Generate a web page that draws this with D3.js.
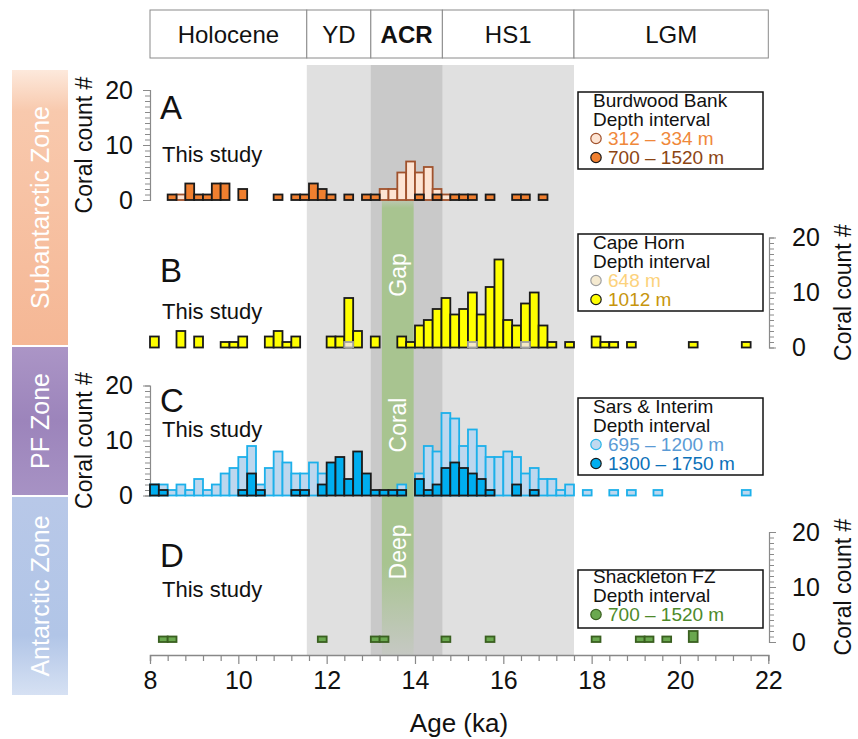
<!DOCTYPE html>
<html><head><meta charset="utf-8">
<script src="https://cdn.jsdelivr.net/npm/d3@7/dist/d3.min.js"></script>
<style>body{margin:0;background:#fff} svg{display:block;font-family:"Liberation Sans",Arial,Helvetica,sans-serif}</style>
</head><body><svg id="c" width="858" height="739"></svg>
<script>
// ---------- data ----------
const periodNames  = ["Holocene", "YD", "ACR", "HS1", "LGM"];
const periodBounds = [8, 11.55, 13.0, 14.62, 17.6, 22];
const gapBand  = [13.25, 13.97];
const gapWords = ["Gap", "Coral", "Deep"];
const zoneNames = ["Subantarctic Zone", "PF Zone", "Antarctic Zone"];
const xTickLabels = [8, 10, 12, 14, 16, 18, 20, 22];
const yTickLabels = [0, 10, 20];
const binWidth = 0.2;

// A  Burdwood Bank
const burdShallowAge   = [8.6, 13.2, 13.4, 13.6, 13.8, 14.0, 14.2, 14.4, 14.6];
const burdShallowCount = [1, 2, 2, 5, 7, 5, 6, 2, 1];
const burdDeepAge   = [8.4, 8.8, 9.0, 9.2, 9.4, 9.6, 10.0, 10.8, 11.2, 11.4, 11.6, 11.8, 12.0, 12.4, 12.8, 13.0, 14.0, 14.4, 14.8, 15.0, 15.2, 15.6, 16.2, 16.4, 16.8];
const burdDeepCount = [1, 3, 1, 1, 3, 3, 2, 1, 1, 1, 3, 2, 1, 1, 1, 1, 1, 1, 1, 1, 1, 1, 1, 1, 1];
// B  Cape Horn
const hornDeepAge   = [8.0, 8.6, 9.0, 9.6, 9.8, 10.0, 10.6, 10.8, 11.0, 11.2, 12.0, 12.2, 12.4, 12.6, 13.0, 13.6, 13.8, 14.0, 14.2, 14.4, 14.6, 14.8, 15.0, 15.2, 15.4, 15.6, 15.8, 16.0, 16.2, 16.4, 16.6, 16.8, 17.0, 17.4, 18.0, 18.2, 18.4, 18.8, 20.2, 21.4];
const hornDeepCount = [2, 3, 2, 1, 1, 2, 2, 3, 1, 2, 2, 2, 9, 3, 2, 2, 1, 4, 5, 7, 9, 6, 7, 10, 6, 11, 16, 5, 4, 8, 10, 4, 1, 1, 2, 1, 1, 1, 1, 1];
const hornShallowAge   = [12.4, 15.2, 16.4];
const hornShallowCount = [1, 1, 1];
// C  Sars & Interim
const sarsShallowAge   = [8.0, 8.2, 8.4, 8.6, 8.8, 9.0, 9.2, 9.4, 9.6, 9.8, 10.0, 10.2, 10.4, 10.6, 10.8, 11.0, 11.2, 11.4, 11.6, 11.8, 13.6, 14.0, 14.2, 14.4, 14.6, 14.8, 15.0, 15.2, 15.4, 15.6, 15.8, 16.0, 16.2, 16.4, 16.6, 16.8, 17.0, 17.2, 17.4, 17.8, 18.4, 18.8, 19.4, 21.4];
const sarsShallowCount = [2, 2, 1, 2, 1, 3, 1, 2, 4, 5, 7, 9, 2, 5, 8, 6, 4, 4, 6, 4, 2, 4, 9, 8, 15, 14, 9, 12, 9, 7, 7, 8, 7, 4, 5, 3, 3, 1, 2, 1, 1, 1, 1, 1];
const sarsDeepAge   = [8.0, 8.2, 10.0, 10.2, 10.4, 11.2, 11.4, 11.8, 12.0, 12.2, 12.4, 12.6, 12.8, 13.0, 13.2, 13.4, 13.6, 14.0, 14.2, 14.4, 14.6, 14.8, 15.0, 15.2, 15.4, 15.6, 16.2, 16.6];
const sarsDeepCount = [2, 1, 1, 4, 1, 1, 1, 2, 6, 7, 3, 8, 4, 1, 1, 1, 1, 3, 1, 2, 5, 6, 5, 4, 3, 1, 2, 1];
// D  Shackleton FZ
const shackAge   = [8.2, 8.4, 11.8, 13.0, 13.2, 14.6, 15.6, 18.0, 19.0, 19.2, 19.6, 20.2];
const shackCount = [1, 1, 1, 1, 1, 1, 1, 1, 1, 1, 1, 2];

// ---------- layout ----------
const svg = d3.select("#c");
const x = d3.scaleLinear().domain([8, 22]).range([150, 768.3]);
const axisY = 655, bandTop = 65;
const panelBase = [200, 347.5, 495.5, 642];
const panelH = 110;

const defs = svg.append("defs");
function vgrad(id, stops) {
  const g = defs.append("linearGradient").attr("id", id).attr("x1", 0).attr("y1", 0).attr("x2", 0).attr("y2", 1);
  stops.forEach(s => g.append("stop").attr("offset", s[0]).attr("stop-color", s[1]).attr("stop-opacity", s[2] === undefined ? 1 : s[2]));
}
vgrad("gSub", [[0, "#fde9dc"], [0.15, "#f8c9ad"], [1, "#f5b795"]]);
vgrad("gPF",  [[0, "#ab95c6"], [0.5, "#9c84bb"], [1, "#a792c4"]]);
vgrad("gAnt", [[0, "#b8c8e8"], [0.7, "#b1c5e7"], [1, "#d6e1f3"]]);
vgrad("gGreen", [[0, "#a8c490", 0.3], [0.02, "#a8c490", 1], [0.8, "#a8c490", 1], [1, "#a8c490", 0.1]]);

// zone bands
const zoneRanges = [[70, 345], [347, 495], [497, 695]];
const zoneFills = ["url(#gSub)", "url(#gPF)", "url(#gAnt)"];
zoneNames.forEach((n, i) => {
  const [y0, y1] = zoneRanges[i];
  svg.append("rect").attr("x", 12).attr("y", y0).attr("width", 56).attr("height", y1 - y0).attr("fill", zoneFills[i]);
  svg.append("text").attr("transform", `translate(40,${(y0 + y1) / 2}) rotate(-90)`)
    .attr("text-anchor", "middle").attr("dy", "0.35em").attr("fill", "#fff").attr("font-size", 25).text(n);
});

// grey period bands
svg.append("rect").attr("x", x(periodBounds[1])).attr("width", x(periodBounds[4]) - x(periodBounds[1]))
  .attr("y", bandTop).attr("height", axisY - bandTop).attr("fill", "#e0e0e0");
svg.append("rect").attr("x", x(periodBounds[2])).attr("width", x(periodBounds[3]) - x(periodBounds[2]))
  .attr("y", bandTop).attr("height", axisY - bandTop).attr("fill", "#c9c9c9");

// green gap band
const gTop = 199;
svg.append("rect").attr("x", x(gapBand[0])).attr("width", x(gapBand[1]) - x(gapBand[0]))
  .attr("y", gTop).attr("height", axisY - gTop).attr("fill", "url(#gGreen)");
const gapCy = [275, 425, 552];
gapWords.forEach((w, i) => {
  svg.append("text").attr("transform", `translate(${(x(gapBand[0]) + x(gapBand[1])) / 2},${gapCy[i]}) rotate(-90)`)
    .attr("text-anchor", "middle").attr("dy", "0.36em").attr("fill", "#fff").attr("font-size", 23).text(w);
});

// header
const hTop = 10, hBot = 58;
periodNames.forEach((n, i) => {
  const xa = x(periodBounds[i]), xb = x(periodBounds[i + 1]);
  svg.append("rect").attr("x", xa).attr("y", hTop).attr("width", xb - xa).attr("height", hBot - hTop)
    .attr("fill", "#fff").attr("stroke", "#8a8a8a").attr("stroke-width", 1);
  svg.append("text").attr("x", (xa + xb) / 2).attr("y", (hTop + hBot) / 2).attr("dy", "0.36em")
    .attr("text-anchor", "middle").attr("font-size", 24).attr("font-weight", n === "ACR" ? "bold" : "normal")
    .attr("fill", "#111").text(n);
});

// x axis
const xTickVals = d3.range(36).map(i => +(8 + i * 0.4).toFixed(1));
const xAxis = d3.axisBottom(x).tickValues(xTickVals).tickSizeOuter(0).tickSize(6).tickPadding(10)
  .tickFormat(v => xTickLabels.includes(v) ? v : "");
const gx = svg.append("g").attr("transform", `translate(0,${axisY})`).call(xAxis);
gx.select(".domain").attr("stroke", "#888").attr("stroke-width", 1.5);
gx.selectAll(".tick line").attr("stroke", "#888").attr("stroke-width", 1.2)
  .attr("y2", v => xTickLabels.includes(v) ? 9 : 6);
gx.selectAll(".tick text").attr("font-size", 25).attr("fill", "#111").attr("font-family", "Liberation Sans, Arial, sans-serif");
svg.append("text").attr("x", 459).attr("y", 732).attr("text-anchor", "middle").attr("font-size", 26).attr("fill", "#111").text("Age (ka)");

// panels
const panels = [
  { letter: "A", side: "left", series: [
      { age: burdShallowAge, count: burdShallowCount, fill: "#fde4d3", stroke: "#a0522d" },
      { age: burdDeepAge, count: burdDeepCount, fill: "#f07f2f", stroke: "#1a1a1a" }],
    letterY: 119, studyY: 162,
    legend: { top: 92, h: 77, first: 15, title: "Burdwood Bank", items: [
      { label: "312 – 334 m", fill: "#fde4d3", stroke: "#a0522d", color: "#f0883a" },
      { label: "700 – 1520 m", fill: "#f07f2f", stroke: "#1a1a1a", color: "#8c4513" }] } },
  { letter: "B", side: "right", series: [
      { age: hornDeepAge, count: hornDeepCount, fill: "#ffff00", stroke: "#1a1a1a" },
      { age: hornShallowAge, count: hornShallowCount, fill: "#f4e9c6", stroke: "#a0a0a0" }],
    letterY: 282, studyY: 319,
    legend: { top: 234, h: 77, first: 15, title: "Cape Horn", items: [
      { label: "648 m", fill: "#f5ead0", stroke: "#a0a0a0", color: "#fcd27c" },
      { label: "1012 m", fill: "#ffff00", stroke: "#1a1a1a", color: "#c7950c" }] } },
  { letter: "C", side: "left", series: [
      { age: sarsShallowAge, count: sarsShallowCount, fill: "#bdd7ee", stroke: "#1cb0ea" },
      { age: sarsDeepAge, count: sarsDeepCount, fill: "#00aeef", stroke: "#1a1a1a" }],
    letterY: 412, studyY: 437,
    legend: { top: 398, h: 77, first: 15, title: "Sars & Interim", items: [
      { label: "695 – 1200 m", fill: "#c0d9ef", stroke: "#29b5e8", color: "#5b9bd5" },
      { label: "1300 – 1750 m", fill: "#00aeef", stroke: "#1a1a1a", color: "#0b71b9" }] } },
  { letter: "D", side: "right", series: [
      { age: shackAge, count: shackCount, fill: "#6aa84f", stroke: "#3a6020" }],
    letterY: 567, studyY: 597,
    legend: { top: 570, h: 58, first: 13, title: "Shackleton FZ", items: [
      { label: "700 – 1520 m", fill: "#6aa84f", stroke: "#3a6020", color: "#4e8a2a" }] } }
];

panels.forEach((p, pi) => {
  const base = panelBase[pi];
  const y = d3.scaleLinear().domain([0, 20]).range([base, base - panelH]);
  const g = svg.append("g");
  const isLeft = p.side === "left";
  const ax = (isLeft ? d3.axisLeft(y) : d3.axisRight(y)).tickValues(d3.range(21)).tickSizeOuter(0)
    .tickSize(5).tickPadding(isLeft ? 12 : 18).tickFormat(v => yTickLabels.includes(v) ? v : "");
  const axX = isLeft ? 150 : 769;
  const ga = g.append("g").attr("transform", `translate(${axX},0)`).call(ax);
  ga.select(".domain").attr("stroke", "#8a8a8a").attr("stroke-width", 1.2);
  ga.selectAll(".tick line").attr("stroke", "#8a8a8a").attr("stroke-width", 1)
    .attr("x2", v => (isLeft ? -1 : 1) * (yTickLabels.includes(v) ? 7 : 5));
  ga.selectAll(".tick text").attr("font-size", 25).attr("fill", "#111").attr("font-family", "Liberation Sans, Arial, sans-serif");
  if (!isLeft) ga.selectAll(".tick text").attr("text-anchor", "start");
  g.append("text").attr("transform", `translate(${isLeft ? 84 : 843},${base - panelH / 2}) rotate(-90)`)
    .attr("text-anchor", "middle").attr("dy", "0.35em").attr("font-size", 23).attr("fill", "#111").text("Coral count #");

  p.series.forEach(s => {
    g.append("g").selectAll("rect").data(s.age.map((a, i) => ({ a, c: s.count[i] }))).join("rect")
      .attr("x", d => x(d.a)).attr("width", d => x(d.a + binWidth) - x(d.a))
      .attr("y", d => y(d.c)).attr("height", d => base - y(d.c))
      .attr("fill", s.fill).attr("stroke", s.stroke).attr("stroke-width", 1.8);
  });

  svg.append("text").attr("x", 160).attr("y", p.letterY).attr("font-size", 33).attr("fill", "#111").text(p.letter);
  svg.append("text").attr("x", 162).attr("y", p.studyY).attr("font-size", 22).attr("fill", "#111").text("This study");

  const L = p.legend, lx = 578, lw = 185;
  svg.append("rect").attr("x", lx).attr("y", L.top).attr("width", lw).attr("height", L.h)
    .attr("fill", "#fff").attr("stroke", "#111").attr("stroke-width", 1.5);
  [L.title, "Depth interval"].forEach((t, i) => svg.append("text").attr("x", lx + 15).attr("y", L.top + L.first + 19 * i)
    .attr("font-size", 19).attr("fill", "#111").text(t));
  L.items.forEach((it, i) => {
    const by = L.top + L.first + 19 * (i + 2);
    svg.append("circle").attr("cx", lx + 18).attr("cy", by - 6.5).attr("r", 5.2)
      .attr("fill", it.fill).attr("stroke", it.stroke).attr("stroke-width", 1.2);
    svg.append("text").attr("x", lx + 30).attr("y", by).attr("font-size", 19).attr("fill", it.color).text(it.label);
  });
});
</script></body></html>
